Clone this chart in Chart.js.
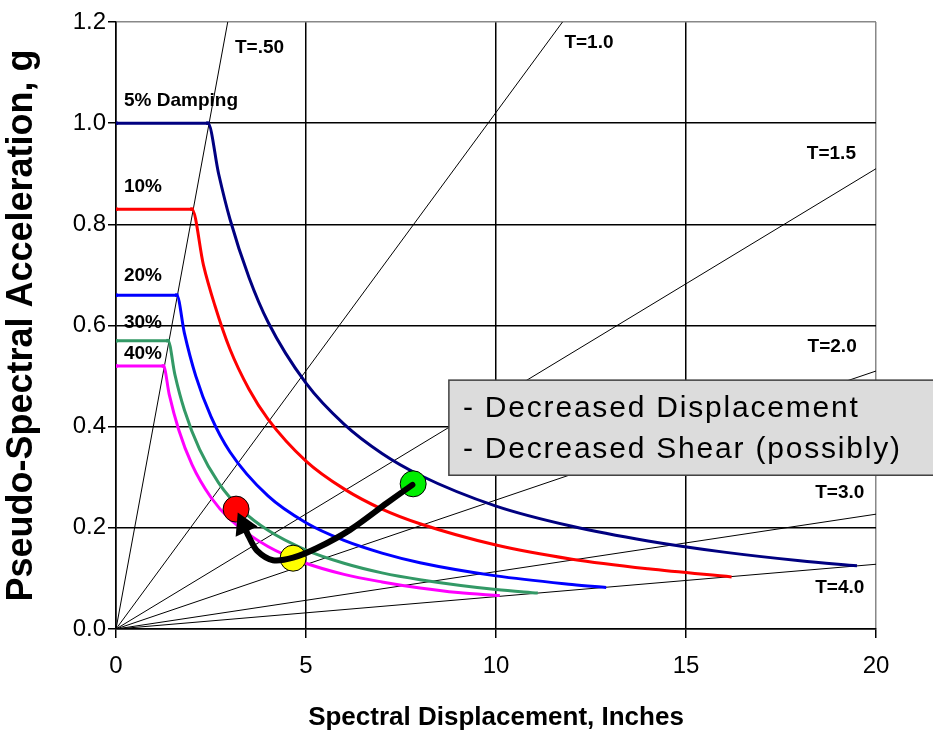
<!DOCTYPE html>
<html>
<head>
<meta charset="utf-8">
<script src="https://cdn.jsdelivr.net/npm/chart.js@4.4.1/dist/chart.umd.min.js"></script>
<style>
  html, body { margin: 0; padding: 0; background: #fff; }
  canvas { display: block; }
</style>
</head>
<body>
<canvas id="myChart" width="933" height="733"></canvas>
<script>
// tick labels
const xTicks = [0, 5, 10, 15, 20];
const yTicks = [0, 0.2, 0.4, 0.6, 0.8, 1.0, 1.2];

// demand spectra (Sd in inches, Sa in g), one pair per damping level
const dampingLabels = ["5% Damping", "10%", "20%", "30%", "40%"];
const sd5 = [0, 2.42, 2.7, 3, 3.5, 4, 5, 6, 7, 8, 10, 12, 14, 16, 18, 19.5];
const sa5 = [1.0, 1.0, 0.90, 0.81, 0.695, 0.607, 0.486, 0.405, 0.347, 0.304, 0.243, 0.203, 0.174, 0.152, 0.135, 0.125];
const sd10 = [0, 2.0, 2.3, 2.6, 3, 3.5, 4, 5, 6, 7, 8, 10, 12, 14, 16.2];
const sa10 = [0.83, 0.83, 0.72, 0.64, 0.553, 0.474, 0.415, 0.332, 0.277, 0.237, 0.208, 0.166, 0.138, 0.119, 0.103];
const sd20 = [0, 1.6, 1.8, 2.1, 2.5, 3, 4, 5, 6, 7, 8, 10, 12, 12.9];
const sa20 = [0.66, 0.66, 0.585, 0.50, 0.42, 0.35, 0.263, 0.21, 0.175, 0.15, 0.131, 0.105, 0.088, 0.082];
const sd30 = [0, 1.37, 1.55, 1.8, 2.2, 2.7, 3.3, 4, 5, 6, 7, 8, 10, 11.1];
const sa30 = [0.57, 0.57, 0.503, 0.433, 0.355, 0.289, 0.236, 0.195, 0.156, 0.13, 0.111, 0.0975, 0.078, 0.071];
const sd40 = [0, 1.25, 1.4, 1.65, 2, 2.5, 3, 4, 5, 6, 7, 8, 9, 10.1];
const sa40 = [0.52, 0.52, 0.464, 0.394, 0.325, 0.26, 0.217, 0.163, 0.13, 0.108, 0.093, 0.081, 0.072, 0.066];

// constant period lines, from the origin to the edge of the plot
const periodLabels = ["T=.50", "T=1.0", "T=1.5", "T=2.0", "T=3.0", "T=4.0"];
const periodEndSd = [2.94, 11.75, 20, 20, 20, 20];
const periodEndSa = [1.2, 1.2, 0.91, 0.51, 0.227, 0.128];

// performance points (red, yellow, green)
const pointSd = [3.16, 4.66, 7.82];
const pointSa = [0.237, 0.140, 0.287];

// the black arrow going from the green point back to the red one
const arrowSd = [7.8, 7.13, 6.16, 5.29, 4.66, 4.13, 3.71, 3.5, 3.36];
const arrowSa = [0.285, 0.249, 0.196, 0.160, 0.141, 0.136, 0.155, 0.182, 0.205];

const boxLines = ["- Decreased Displacement", "- Decreased Shear (possibly)"];

// ---- styling ----
const FONT = "'Liberation Sans', Arial, sans-serif";
const dampingColors = ["#000080", "#ff0000", "#0000ff", "#339966", "#ff00ff"];
const pointColors = ["#ff0000", "#ffff00", "#00ee00"];

function toXY(xs, ys) {
  let out = [];
  for (let i = 0; i < xs.length; i++) {
    out.push({ x: xs[i], y: ys[i] });
  }
  return out;
}

let datasets = [];

// arrow on top
datasets.push({
  data: toXY(arrowSd, arrowSa),
  borderColor: "#000",
  backgroundColor: "#000",
  borderWidth: 6,
  tension: 0.3,
  borderCapStyle: "round",
  pointStyle: "triangle",
  pointRadius: arrowSd.map((v, i) => i === arrowSd.length - 1 ? 14 : 0),
  pointRotation: arrowSd.map((v, i) => i === arrowSd.length - 1 ? -25 : 0),
  pointBorderWidth: 0,
  order: 0
});

// points
datasets.push({
  data: toXY(pointSd, pointSa),
  showLine: false,
  pointRadius: 13,
  pointBackgroundColor: pointColors,
  pointBorderColor: "#000",
  pointBorderWidth: 1,
  order: 1
});

// damping curves
const curves = [[sd5, sa5], [sd10, sa10], [sd20, sa20], [sd30, sa30], [sd40, sa40]];
curves.forEach((c, k) => {
  datasets.push({
    data: toXY(c[0], c[1]),
    borderColor: dampingColors[k],
    backgroundColor: dampingColors[k],
    borderWidth: 3,
    cubicInterpolationMode: "monotone",
    pointStyle: "rect",
    pointRadius: c[0].map((v, i) => i < 2 ? 2.5 : 0),
    pointBorderWidth: 0,
    order: 2
  });
});

// period lines
periodLabels.forEach((lab, k) => {
  datasets.push({
    data: [{ x: 0, y: 0 }, { x: periodEndSd[k], y: periodEndSa[k] }],
    borderColor: "#000",
    borderWidth: 1,
    pointRadius: 0,
    order: 3
  });
});

// text labels and the grey note box, placed with the chart scales
const dampLabelPos = [[0.21, 1.045], [0.21, 0.874], [0.21, 0.698], [0.21, 0.605], [0.21, 0.545]];
const periodLabelPos = [[3.13, 1.15], [11.8, 1.158], [18.18, 0.94], [18.2, 0.557], [18.4, 0.269], [18.4, 0.081]];
const boxLeft = 8.76, boxTop = 0.492, boxBottom = 0.304;
const boxTextSd = 9.13, boxTextSa = [0.42, 0.338];

const labelsPlugin = {
  id: "labels",
  afterDatasetsDraw(chart) {
    const ctx = chart.ctx;
    const xs = chart.scales.x, ys = chart.scales.y;
    ctx.save();
    ctx.fillStyle = "#000";
    ctx.font = "bold 19px " + FONT;
    ctx.textAlign = "left";
    ctx.textBaseline = "middle";
    dampingLabels.forEach((t, i) => {
      ctx.fillText(t, xs.getPixelForValue(dampLabelPos[i][0]), ys.getPixelForValue(dampLabelPos[i][1]));
    });
    periodLabels.forEach((t, i) => {
      ctx.fillText(t, xs.getPixelForValue(periodLabelPos[i][0]), ys.getPixelForValue(periodLabelPos[i][1]));
    });

    // note box
    const bx = xs.getPixelForValue(boxLeft);
    const by = ys.getPixelForValue(boxTop);
    const bh = ys.getPixelForValue(boxBottom) - by;
    ctx.fillStyle = "#dcdcdc";
    ctx.fillRect(bx, by, chart.width - bx + 5, bh);
    ctx.strokeStyle = "#404040";
    ctx.lineWidth = 1.5;
    ctx.strokeRect(bx, by, chart.width - bx + 5, bh);

    ctx.fillStyle = "#000";
    ctx.font = "30px " + FONT;
    ctx.textBaseline = "alphabetic";
    ctx.letterSpacing = "1.8px";
    boxLines.forEach((t, i) => {
      ctx.fillText(t, xs.getPixelForValue(boxTextSd), ys.getPixelForValue(boxTextSa[i]));
    });
    ctx.restore();
  }
};

let ctx = document.querySelector("#myChart").getContext("2d");
let myChart = new Chart(ctx, {
  type: "line",
  data: { datasets: datasets },
  plugins: [labelsPlugin],
  options: {
    responsive: false,
    animation: false,
    layout: { padding: { top: 22, right: 57, left: 0, bottom: 0 } },
    plugins: {
      legend: { display: false },
      tooltip: { enabled: false }
    },
    scales: {
      x: {
        type: "linear",
        min: 0,
        max: 20,
        afterBuildTicks: s => { s.ticks = xTicks.map(v => ({ value: v })); },
        afterFit: s => { s.height = 104; },
        ticks: {
          color: "#000",
          font: { family: FONT, size: 24 },
          padding: 14,
          maxRotation: 0
        },
        grid: {
          color: c => c.tick && c.tick.value === 20 ? "#888" : "#000",
          tickColor: "#000",
          lineWidth: 1.5,
          tickLength: 9
        },
        border: { color: "#000", width: 1.5 },
        title: {
          display: true,
          text: "Spectral Displacement, Inches",
          color: "#000",
          font: { family: FONT, size: 26, weight: "bold" },
          padding: { top: 0, bottom: 0 }
        }
      },
      y: {
        min: 0,
        max: 1.2,
        afterBuildTicks: s => { s.ticks = yTicks.map(v => ({ value: v })); },
        afterFit: s => { s.width = 116; },
        ticks: {
          color: "#000",
          font: { family: FONT, size: 24 },
          padding: 2,
          callback: v => Number(v).toFixed(1)
        },
        grid: {
          color: c => c.tick && c.tick.value === 1.2 ? "#888" : "#000",
          tickColor: "#000",
          lineWidth: 1.5,
          tickLength: 8
        },
        border: { color: "#000", width: 1.5 },
        title: {
          display: true,
          text: "Pseudo-Spectral Acceleration, g",
          color: "#000",
          font: { family: FONT, size: 36, weight: "bold" },
          padding: { top: 0, bottom: 6 }
        }
      }
    }
  }
});
</script>
</body>
</html>
